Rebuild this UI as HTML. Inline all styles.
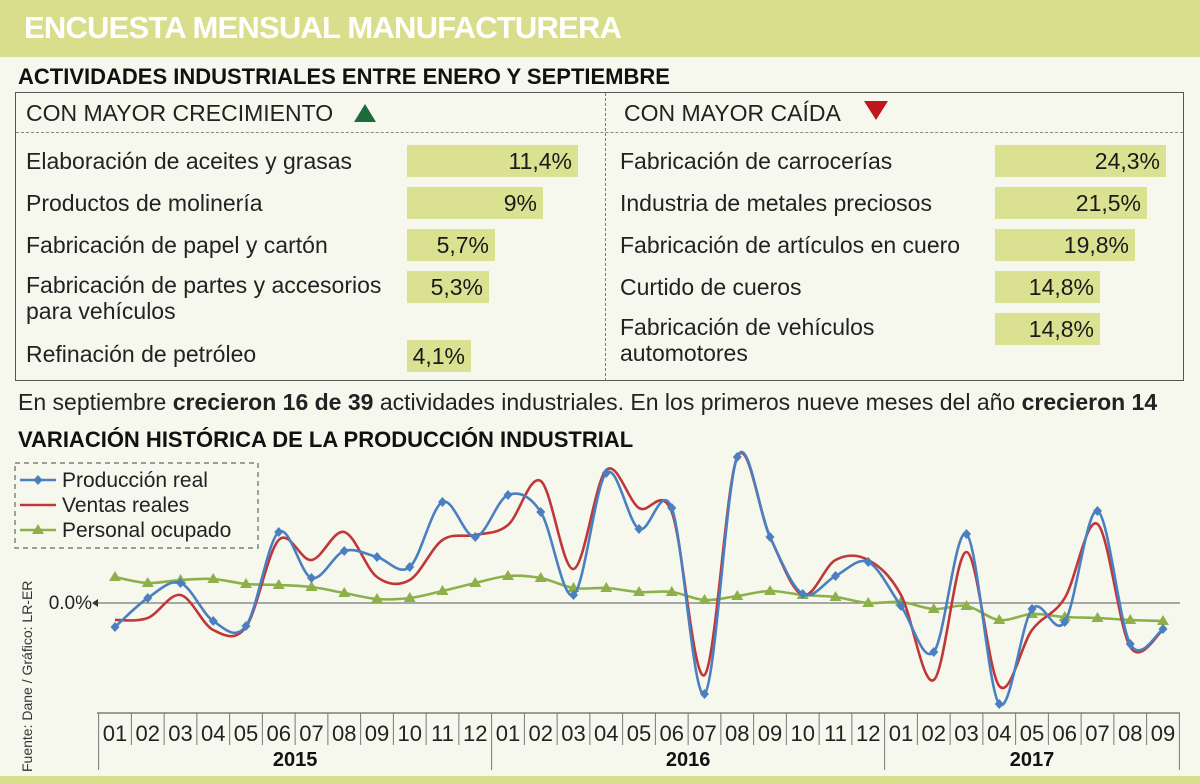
<!DOCTYPE html>
<html><head><meta charset="utf-8">
<style>
body{margin:0;width:1200px;height:783px;background:#f6f8ed;font-family:"Liberation Sans Narrow","Liberation Sans",sans-serif;position:relative;overflow:hidden;color:#1a1a1a}
.abs{position:absolute}
.banner{left:0;top:0;width:1200px;height:57px;background:#d8de8c}
.banner span{position:absolute;left:24px;top:10px;font-size:31px;font-weight:bold;color:#fff;letter-spacing:-0.8px}
.h2{font-size:22px;font-weight:bold;color:#111}
.box{left:15px;top:92px;width:1169px;height:289px;border:1.5px solid #555;box-sizing:border-box}
.row{font-size:23px;color:#222;line-height:26px}
.bar{background:#dae292;height:32px;font-size:23px;text-align:right;line-height:32px;padding-right:6px;box-sizing:border-box}
</style></head><body>
<div class="abs banner"><span>ENCUESTA MENSUAL MANUFACTURERA</span></div>
<div class="abs h2" style="left:18px;top:64px">ACTIVIDADES INDUSTRIALES ENTRE ENERO Y SEPTIEMBRE</div>
<div class="abs box"></div>
<div class="abs" style="left:605px;top:93px;height:288px;border-left:1.5px dashed #777"></div>
<div class="abs" style="left:16px;top:132px;width:1167px;border-top:1.5px dashed #888"></div>
<div class="abs row" style="left:26px;top:100px">CON MAYOR CRECIMIENTO <span style="display:inline-block;margin-left:14px;width:0;height:0;border-left:11px solid transparent;border-right:11px solid transparent;border-bottom:18px solid #1d6b3a;vertical-align:-1px"></span></div>
<div class="abs row" style="left:624px;top:100px">CON MAYOR CAÍDA <span style="display:inline-block;margin-left:18px;width:0;height:0;border-left:12px solid transparent;border-right:12px solid transparent;border-top:19px solid #c0161e;vertical-align:1px"></span></div>

<div class="abs row" style="left:26px;top:148px">Elaboración de aceites y grasas</div>
<div class="abs bar" style="left:407px;top:145px;width:171px">11,4%</div>
<div class="abs row" style="left:26px;top:190px">Productos de molinería</div>
<div class="abs bar" style="left:407px;top:187px;width:136px">9%</div>
<div class="abs row" style="left:26px;top:232px">Fabricación de papel y cartón</div>
<div class="abs bar" style="left:407px;top:229px;width:88px">5,7%</div>
<div class="abs row" style="left:26px;top:272px">Fabricación de partes y accesorios<br>para vehículos</div>
<div class="abs bar" style="left:407px;top:271px;width:82px">5,3%</div>
<div class="abs row" style="left:26px;top:341px">Refinación de petróleo</div>
<div class="abs bar" style="left:407px;top:340px;width:64px">4,1%</div>

<div class="abs row" style="left:620px;top:148px">Fabricación de carrocerías</div>
<div class="abs bar" style="left:995px;top:145px;width:171px">24,3%</div>
<div class="abs row" style="left:620px;top:190px">Industria de metales preciosos</div>
<div class="abs bar" style="left:995px;top:187px;width:152px">21,5%</div>
<div class="abs row" style="left:620px;top:232px">Fabricación de artículos en cuero</div>
<div class="abs bar" style="left:995px;top:229px;width:140px">19,8%</div>
<div class="abs row" style="left:620px;top:274px">Curtido de cueros</div>
<div class="abs bar" style="left:995px;top:271px;width:105px">14,8%</div>
<div class="abs row" style="left:620px;top:314px">Fabricación de vehículos<br>automotores</div>
<div class="abs bar" style="left:995px;top:313px;width:105px">14,8%</div>

<div class="abs row" style="left:18px;top:389px">En septiembre <b>crecieron 16 de 39</b> actividades industriales. En los primeros nueve meses del año <b>crecieron 14</b></div>
<div class="abs h2" style="left:18px;top:427px">VARIACIÓN HISTÓRICA DE LA PRODUCCIÓN INDUSTRIAL</div>
<div class="abs" style="left:0;top:776px;width:1200px;height:7px;background:#d8de8c"></div>

<svg class="abs" style="left:0;top:0" width="1200" height="783" id="chart"></svg>
<script>
const months=["01","02","03","04","05","06","07","08","09","10","11","12","01","02","03","04","05","06","07","08","09","10","11","12","01","02","03","04","05","06","07","08","09"];
const years=["2015","2016","2017"];
const produccion=[-2.4,0.5,2.0,-1.8,-2.3,7.1,2.5,5.2,4.6,3.6,10.1,6.6,10.8,9.1,0.8,13.0,7.4,9.5,-9.1,14.6,6.6,0.9,2.7,4.1,-0.3,-4.9,6.9,-10.1,-0.6,-1.9,9.2,-4.1,-2.6];
const ventas=[-1.7,-1.5,0.8,-2.7,-2.4,6.3,4.3,7.1,2.6,2.3,6.3,6.8,7.8,12.2,3.4,13.3,9.5,9.1,-7.2,14.6,6.6,0.8,4.3,4.3,0.8,-7.7,5.1,-8.3,-2.7,0.5,7.9,-4.4,-2.7];
const personal=[2.6,2.0,2.3,2.4,1.9,1.8,1.6,1.0,0.4,0.5,1.2,2.0,2.7,2.5,1.5,1.5,1.1,1.1,0.3,0.7,1.2,0.8,0.6,0.0,0.1,-0.6,-0.3,-1.7,-1.1,-1.4,-1.5,-1.7,-1.8];
const legendLabels=["Producción real","Ventas reales","Personal ocupado"];
const NS="http://www.w3.org/2000/svg";
const svg=document.getElementById("chart");
const x0=115,x1=1163,axisY=713,zeroY=603,pxPer=10;
function xs(i){return x0+i*(x1-x0)/(months.length-1);}
function ys(v){return zeroY-v*pxPer;}
function mk(tag,attrs){const e=document.createElementNS(NS,tag);for(const k in attrs)e.setAttribute(k,attrs[k]);svg.appendChild(e);return e;}
let zl=mk("line",{x1:97,x2:1180,y1:zeroY,y2:zeroY,stroke:"#777","stroke-width":1.3});


let zt=mk("text",{x:92,y:zeroY+6,"text-anchor":"end","font-size":19,fill:"#222","font-family":"Liberation Sans Narrow, Liberation Sans, sans-serif"});
zt.textContent="0.0%";


mk("path",{d:`M92 ${zeroY} l6 -4 v8 z`,fill:"#333"});
let ax=mk("line",{x1:97,x2:1180,y1:axisY,y2:axisY,stroke:"#666","stroke-width":1.3});


const step=(x1-x0)/(months.length-1);
for(let i=0;i<=months.length;i++){
  const bx=x0-step/2+i*step;
  const isYear=(i%12===0)||i===months.length;
  mk("line",{x1:bx,x2:bx,y1:axisY,y2:isYear?770:745,stroke:"#777","stroke-width":1});
}
months.forEach((m,i)=>{
  const t=mk("text",{x:xs(i),y:741,"text-anchor":"middle","font-size":22,fill:"#222","font-family":"Liberation Sans Narrow, Liberation Sans, sans-serif"});
  t.textContent=m;
  
  
});
years.forEach((y,k)=>{
  const a=k*12,b=Math.min(k*12+11,months.length-1);
  const t=mk("text",{x:(xs(a)+xs(b))/2,y:766,"text-anchor":"middle","font-size":20,"font-weight":"bold",fill:"#111","font-family":"Liberation Sans Narrow, Liberation Sans, sans-serif"});
  t.textContent=y;
  
  
});
function smooth(vals){
  const p=vals.map((v,i)=>[xs(i),ys(v)]);
  let d=`M${p[0][0]} ${p[0][1]}`;
  for(let i=0;i<p.length-1;i++){
    const a=p[i-1]||p[i],b=p[i],c=p[i+1],e=p[i+2]||c;
    d+=` C${b[0]+(c[0]-a[0])/6} ${b[1]+(c[1]-a[1])/6} ${c[0]-(e[0]-b[0])/6} ${c[1]-(e[1]-b[1])/6} ${c[0]} ${c[1]}`;
  }
  return d;
}
function series(vals,color,marker,name){
  const p=mk("path",{d:smooth(vals),fill:"none",stroke:color,"stroke-width":2.6});
  
  
  if(!marker)return;
  vals.forEach((v,i)=>{
    const x=xs(i),y=ys(v);
    let m;
    if(marker==="diamond")m=mk("path",{d:`M${x} ${y-5} L${x+4.5} ${y} L${x} ${y+5} L${x-4.5} ${y} Z`,fill:color});
    else m=mk("path",{d:`M${x} ${y-6} L${x+6} ${y+4} L${x-6} ${y+4} Z`,fill:color});
    
    
  });
}
series(personal,"#8db04a","tri","personal-ocupado");
series(ventas,"#c0373a",null,"ventas-reales");
series(produccion,"#4a7fc0","diamond","produccion-real");
let lb=mk("rect",{x:15,y:463,width:243,height:85,fill:"none",stroke:"#666","stroke-dasharray":"5 4","stroke-width":1.2});


const lc=["#4a7fc0","#c0373a","#8db04a"];
legendLabels.forEach((l,k)=>{
  const y=480+k*25;
  mk("line",{x1:20,x2:56,y1:y,y2:y,stroke:lc[k],"stroke-width":2.5});
  if(k===0)mk("path",{d:`M38 ${y-5} L42.5 ${y} L38 ${y+5} L33.5 ${y} Z`,fill:lc[k]});
  if(k===2)mk("path",{d:`M38 ${y-6} L44 ${y+4} L32 ${y+4} Z`,fill:lc[k]});
  const t=mk("text",{x:62,y:y+7,"font-size":21,fill:"#222","font-family":"Liberation Sans Narrow, Liberation Sans, sans-serif"});
  t.textContent=l;
  
  
});
const src=mk("text",{x:0,y:0,"font-size":14,fill:"#333",transform:"translate(32,772) rotate(-90)","font-family":"Liberation Sans Narrow, Liberation Sans, sans-serif"});
src.textContent="Fuente: Dane / Gráfico: LR-ER";


</script>
</body></html>
